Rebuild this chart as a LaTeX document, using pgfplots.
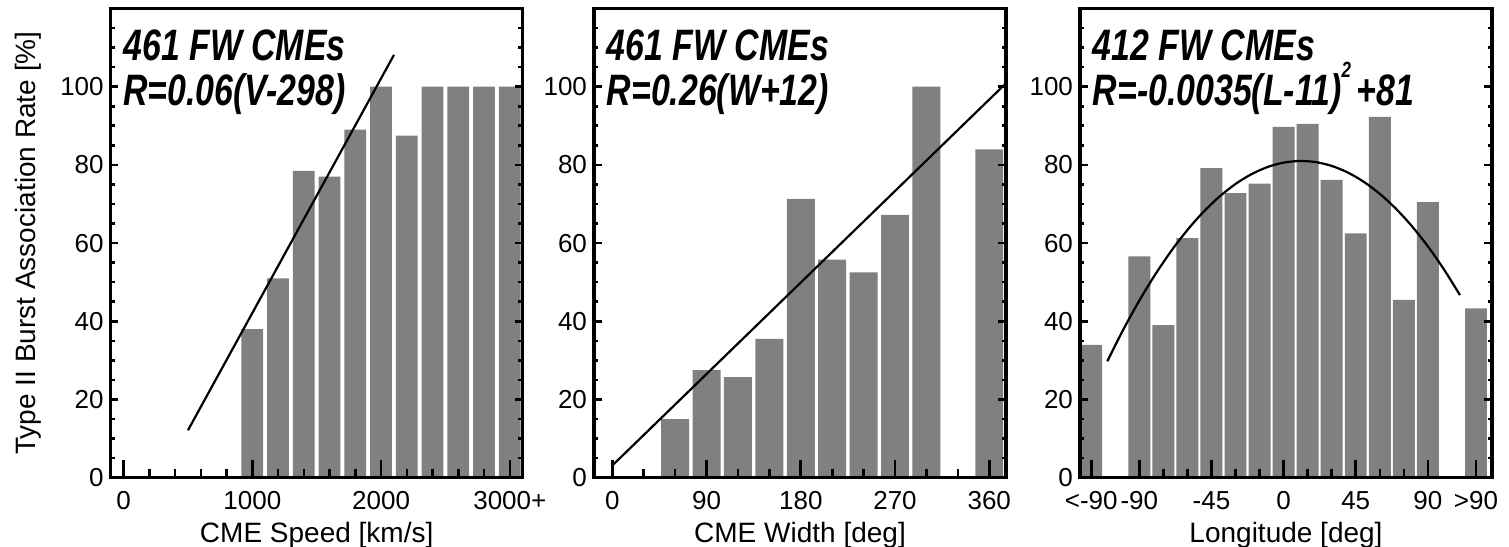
\documentclass[border=0pt]{standalone}
\usepackage{fontspec}
\setmainfont{Liberation Sans}
\usepackage{graphicx}
\usepackage{pgfplots}
\pgfplotsset{compat=1.18}

\newcommand\ttl[1]{\scalebox{0.77}[1]{\fontsize{22}{22}\selectfont\bfseries\itshape #1}}

\pgfplotsset{
  panel/.style={
    scale only axis, width=206pt, height=234.6pt,
    ymin=0, ymax=120,
    ytick={0,20,...,100}, minor ytick={5,10,...,115},
    axis on top, axis line style={line width=1.6pt},
    tick style={black, line width=1.3pt},
    major tick length=3.85pt, minor tick length=2.2pt,
    xtick style={/pgfplots/major tick length=9pt, /pgfplots/minor tick length=4.5pt},
    xtick pos=left, ytick pos=both, tick align=inside,
    tick label style={font=\fontsize{13}{13}\selectfont},
    /pgf/number format/assume math mode=true,
    xticklabel style={anchor=base, yshift=-16pt},
    label style={font=\fontsize{14}{14}\selectfont},
    xlabel style={at={(axis description cs:0.5,-0.1385)}, anchor=base},
    ylabel style={at={(axis description cs:-0.2,0.5)}, anchor=center},
  },
  histbar/.style={ybar, fill=gray, draw=none},
  fitline/.style={black, line width=1.1pt, no marks},
}

\begin{document}
\begin{tikzpicture}
\path[use as bounding box] (-55.35pt,-34.15pt) rectangle (699.15pt,238.85pt);

% speed
\begin{axis}[panel, at={(0pt,0pt)}, anchor=south west,
  xmin=-100, xmax=3100,
  xtick={0,1000,2000,3000}, xticklabels={0,1000,2000,3000+},
  minor xtick={200,400,...,2800},
  xlabel={CME Speed [km/s]},
  ylabel={Type II Burst Association Rate [\%]}]
\addplot[histbar, bar width=169] coordinates {
  (1000,38) (1200,51) (1400,78.5) (1600,77) (1800,89) (2000,100)
  (2200,87.5) (2400,100) (2600,100) (2800,100) (3000,100)};
\addplot[fitline] coordinates {(500,12.12) (2100,108.12)};
\node[anchor=base west, inner sep=0] at (rel axis cs:0.03,0.890) {\ttl{461 FW CMEs}};
\node[anchor=base west, inner sep=0] at (rel axis cs:0.03,0.794) {\ttl{R=0.06(V-298)}};
\end{axis}

% width
\begin{axis}[panel, at={(241.65pt,0pt)}, anchor=south west,
  xmin=-17.5, xmax=376,
  xtick={0,90,180,270,360},
  minor xtick={30,60,120,150,210,240,300,330},
  xlabel={CME Width [deg]}]
\addplot[histbar, bar width=26.7] coordinates {
  (60,15) (90,27.5) (120,25.7) (150,35.5) (180,71.3) (210,55.8)
  (240,52.5) (270,67.2) (300,100) (360,84)};
\addplot[fitline] coordinates {(0,3.12) (375,100.62)};
\node[anchor=base west, inner sep=0] at (rel axis cs:0.03,0.890) {\ttl{461 FW CMEs}};
\node[anchor=base west, inner sep=0] at (rel axis cs:0.03,0.794) {\ttl{R=0.26(W+12)}};
\end{axis}

% longitude
\begin{axis}[panel, at={(484.65pt,0pt)}, anchor=south west,
  xmin=-127, xmax=130,
  xtick={-120,-90,-45,0,45,90,120},
  xticklabels={<-90,-90,-45,0,45,90,>90},
  minor xtick={-75,-60,-30,-15,15,30,60,75},
  xlabel={Longitude [deg]}]
\addplot[histbar, bar width=13.7] coordinates {
  (-120,34) (-90,56.6) (-75,39) (-60,61.3) (-45,79.2) (-30,72.8)
  (-15,75.2) (0,89.7) (15,90.5) (30,76.2) (45,62.5) (60,92.3)
  (75,45.5) (90,70.5) (120,43.3)};
\addplot[fitline, smooth] coordinates {
  (-110,29.76) (-100,37.88) (-90,45.30) (-80,52.02) (-70,58.04)
  (-60,63.36) (-50,67.98) (-40,71.90) (-30,75.12) (-20,77.64)
  (-10,79.46) (0,80.58) (10,81.00) (20,80.72) (30,79.74) (40,78.06)
  (50,75.68) (60,72.60) (70,68.82) (80,64.34) (90,59.16) (100,53.28)
  (110,46.70)};
\node[anchor=base west, inner sep=0] at (rel axis cs:0.03,0.890) {\ttl{412 FW CMEs}};
\node[anchor=base west, inner sep=0] at (rel axis cs:0.03,0.794) {\ttl{R=-0.0035(L-11)\raisebox{0.62em}{\fontsize{11}{11}\selectfont 2}\,+81}};
\end{axis}
\end{tikzpicture}
\end{document}
